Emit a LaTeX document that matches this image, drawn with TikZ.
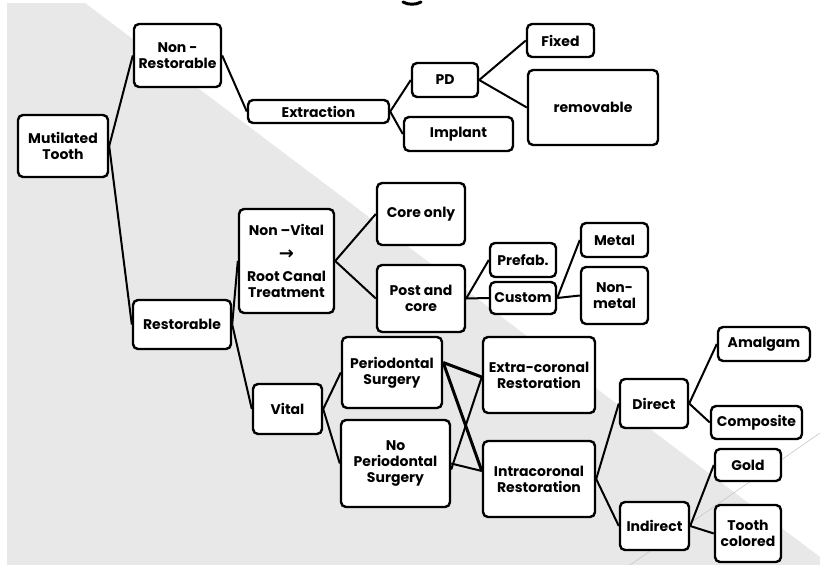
\documentclass[tikz,border=0pt]{standalone}
\usepackage{fontspec}
\setmainfont{Poppins}
\newfontfamily\arrowfont{DejaVu Sans}
\definecolor{bggray}{RGB}{232,232,232}
\definecolor{faint}{RGB}{200,200,200}
\begin{document}
\begin{tikzpicture}[x=1pt,y=-1pt,
  box/.style={draw=black,line width=2.4pt,rounded corners=5pt,fill=white,
    inner sep=1pt,align=center,font=\fontsize{14}{16}\selectfont\bfseries,text=black},
  link/.style={draw=black,line width=2pt},
  thick link/.style={draw=black,line width=3pt}]
\useasboundingbox (0,0) rectangle (820,565);
\fill[white] (0,0) rectangle (820,565);
\fill[bggray] (7,3) -- (85,3) -- (820,557) -- (820,565) -- (7,565) -- cycle;
\draw[faint,line width=0.6pt] (820,433) -- (630,565);
\draw[line width=3pt,line cap=round] (403,2) .. controls (408,5) and (416,5) .. (421,2);
% nodes
\node[box,minimum width=90,minimum height=62] (mt) at (63,146) {Mutilated\\Tooth};
\node[box,minimum width=87,minimum height=63] (nr) at (177.5,55.5) {Non -\\Restorable};
\node[box,minimum width=141,minimum height=23] (ex) at (318.5,111.5) {Extraction};
\node[box,minimum width=66,minimum height=34] (pd) at (445,80) {PD};
\node[box,minimum width=109,minimum height=34] (im) at (458.5,134) {Implant};
\node[box,minimum width=67,minimum height=33] (fx) at (560.5,40.5) {Fixed};
\node[box,minimum width=130,minimum height=75] (rm) at (593,107.5) {removable};
\node[box,minimum width=98,minimum height=49] (rs) at (182,324.5) {Restorable};
\node[box,minimum width=95,minimum height=104] (nv) at (286.5,261) {Non –Vital\\[8pt]{\arrowfont\bfseries\fontsize{18}{16}\selectfont →}\\[6pt]Root Canal\\Treatment};
\node[box,minimum width=88,minimum height=62] (co) at (421,214) {Core only};
\node[box,minimum width=88,minimum height=67] (pc) at (421,298.5) {Post and\\core};
\node[box,minimum width=66,minimum height=34] (pf) at (523,260) {Prefab.};
\node[box,minimum width=66,minimum height=32] (cu) at (523,298) {Custom};
\node[box,minimum width=67,minimum height=34] (me) at (614.5,240) {Metal};
\node[box,minimum width=67,minimum height=57] (nm) at (614.5,295.5) {Non-\\metal};
\node[box,minimum width=69,minimum height=50] (vi) at (287.5,409) {Vital};
\node[box,minimum width=100,minimum height=71] (ps) at (392,372.5) {Periodontal\\Surgery};
\node[box,minimum width=109,minimum height=87] (np) at (395.5,463.5) {No\\Periodontal\\Surgery};
\node[box,minimum width=112,minimum height=76] (ec) at (539,375) {Extra-coronal\\Restoration};
\node[box,minimum width=112,minimum height=76] (ic) at (539,479) {Intracoronal\\Restoration};
\node[box,minimum width=68,minimum height=49] (di) at (654,403.5) {Direct};
\node[box,minimum width=92,minimum height=34] (am) at (764,344) {Amalgam};
\node[box,minimum width=91,minimum height=33] (cp) at (756.5,422.5) {Composite};
\node[box,minimum width=69,minimum height=48] (in) at (654.5,526) {Indirect};
\node[box,minimum width=66,minimum height=32] (go) at (748,465) {Gold};
\node[box,minimum width=66,minimum height=57] (tc) at (748,533.5) {Tooth\\colored};
% connectors
\draw[link] (mt.east) -- (nr.west);
\draw[link] (mt.east) -- (rs.west);
\draw[link] (nr.east) -- (ex.west);
\draw[link] (ex.east) -- (pd.west);
\draw[link] (ex.east) -- (im.west);
\draw[link] (pd.east) -- (fx.west);
\draw[link] (pd.east) -- (rm.west);
\draw[link] (rs.east) -- (nv.west);
\draw[link] (rs.east) -- (vi.west);
\draw[link] (nv.east) -- (co.west);
\draw[link] (nv.east) -- (pc.west);
\draw[link] (pc.east) -- (pf.west);
\draw[link] (pc.east) -- (cu.west);
\draw[link] (cu.east) -- (me.west);
\draw[link] (cu.east) -- (nm.west);
\draw[link] (vi.east) -- (ps.west);
\draw[link] (vi.east) -- (np.west);
\draw[thick link] ([yshift=10]ps.east) -- ([yshift=-2]ec.west);
\draw[thick link] ([yshift=10]ps.east) -- ([yshift=8]ic.west);
\draw[link] ([yshift=-6]np.east) -- ([yshift=-2]ec.west);
\draw[link] (np.east) -- ([yshift=8]ic.west);
\draw[link] (ic.east) -- (di.west);
\draw[link] (ic.east) -- (in.west);
\draw[link] (di.east) -- (am.west);
\draw[link] (di.east) -- (cp.west);
\draw[link] (in.east) -- (go.west);
\draw[link] (in.east) -- (tc.west);
\end{tikzpicture}
\end{document}
